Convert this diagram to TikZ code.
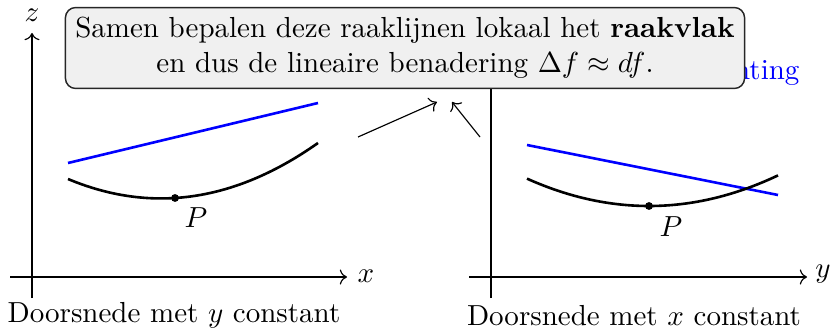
\documentclass[tikz,border=0pt]{standalone}
\usetikzlibrary{arrows.meta}
\begin{document}
\begin{tikzpicture}[x=0.34483pt,y=-0.34483pt,
  axis/.style={line width=0.4pt,->},
  curve/.style={line width=0.9pt},
  tangent/.style={line width=0.9pt,blue},
  bluelbl/.style={blue,anchor=base east,inner sep=0pt},
  dot/.style={circle,fill=black,inner sep=0pt,minimum size=2.7pt},
  caption/.style={anchor=base,inner sep=0pt},
  infobox/.style={draw=black!85,fill=black!6,rounded corners=3.5pt,align=center,line width=0.5pt,inner sep=3.4pt},
  ptr/.style={line width=0.4pt,->}]
\useasboundingbox (0,0) rectangle (832,333);
% left panel
\coordinate (zb1) at (32,298);
\coordinate (zt1) at (32,33);
\coordinate (xl1) at (10,277);
\coordinate (xr1) at (347,277);
\draw[axis] (zb1) -- (zt1);
\draw[axis] (xl1) -- (xr1);
\node (zlab1) at (32,15) {$z$};
\node (xlab1) at (366,276) {$x$};
\node[caption] (cap1) at (174,322) {Doorsnede met $y$ constant};
\coordinate (t1a) at (68,163);
\coordinate (t1b) at (318,103);
\draw[tangent] (t1a) -- (t1b);
\draw[curve] plot[domain=68:318,samples=60] (\x,{198 - 0.0631*(\x-175) - 22.49*((\x-175)/100)^2});
\node[dot] (P1) at (175,198) {};
\node (Plab1) at (196,218) {$P$};
\node[bluelbl] (blue1) at (390,80) {Raaklijn in $x$-richting};
% right panel
\coordinate (zb2) at (491,298);
\coordinate (zt2) at (491,33);
\coordinate (xl2) at (469,277);
\coordinate (xr2) at (807,277);
\draw[axis] (zb2) -- (zt2);
\draw[axis] (xl2) -- (xr2);
\node (ylab2) at (823,274) {$y$};
\node[caption] (cap2) at (634,325) {Doorsnede met $x$ constant};
\coordinate (t2a) at (527,145);
\coordinate (t2b) at (778,195);
\draw[tangent] (t2a) -- (t2b);
\draw[curve] plot[domain=527:778,samples=60] (\x,{206 - 18.39*((\x-649)/100)^2});
\node[dot] (P2) at (649,206) {};
\node (Plab2) at (671,227) {$P$};
\node[bluelbl] (blue2) at (800,80) {Raaklijn in $y$-richting};
% pointers
\coordinate (a1s) at (358,137);
\coordinate (a1e) at (437,102);
\coordinate (a2s) at (480,137);
\coordinate (a2e) at (452,102);
\draw[ptr] (a1s) -- (a1e);
\draw[ptr] (a2s) -- (a2e);
% box
\node[infobox] (box) at (405,48) {Samen bepalen deze raaklijnen lokaal het \textbf{raakvlak}\\en dus de lineaire benadering $\Delta f \approx df$.};
\end{tikzpicture}
\end{document}
